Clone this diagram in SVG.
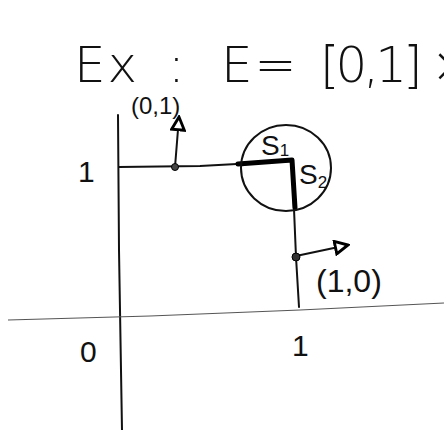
<svg xmlns="http://www.w3.org/2000/svg" width="444" height="430" viewBox="0 0 444 430">
<style>
.t{font-family:"Liberation Sans",Arial,sans-serif;fill:#111;}
.h{font-family:"DejaVu Sans","Liberation Sans",sans-serif;font-weight:200;fill:#111;font-size:50px;}
.ax{stroke:#111;stroke-width:2;fill:none;stroke-linecap:round;}
.thin{stroke:#555;stroke-width:1.2;fill:none;}
.thick{stroke:#000;stroke-width:5;fill:none;stroke-linecap:round;stroke-linejoin:round;}
</style>
<defs>
<marker id="ah" viewBox="0 0 10 10" refX="9" refY="5" markerWidth="8" markerHeight="8" orient="auto">
<path d="M1,1 L9,5 L1,9 Z" fill="#fff" stroke="#000" stroke-width="1.8"/>
</marker>
</defs>
<rect width="444" height="430" fill="#fff"/>
<g id="title">
<text class="h" x="74" y="82" letter-spacing="2">Ex</text>
<text class="h" x="168" y="82">:</text>
<text class="h" x="221" y="82" letter-spacing="2">E=</text>
<text class="h" x="320" y="82" letter-spacing="-4">[0,1] ×</text>
</g>
<g id="axes">
<path class="ax" d="M118,115 L119,250 L122,430"/>
<path class="thin" d="M8,320 L150,316 L300,310 L444,303"/>
</g>
<g id="connectors">
<path class="ax" d="M119,167 L200,166 L292,161"/>
<path class="ax" d="M292,161 L296,257 L299,307"/>
<path class="thick" d="M238,164 L292,160 L295,208"/>
<path class="ax" d="M175,167 L179,117" marker-end="url(#ah)"/>
<path class="ax" d="M296,256 L348,245" marker-end="url(#ah)"/>
</g>
<g id="circle">
<ellipse cx="286" cy="168" rx="45" ry="43" fill="none" stroke="#111" stroke-width="2"/>
<text class="t" x="261" y="155" font-size="28">S<tspan font-size="17" dy="1">1</tspan></text>
<text class="t" x="299" y="184" font-size="28">S<tspan font-size="17" dy="4">2</tspan></text>
</g>
<g id="p01">
<circle cx="175" cy="167" r="3.5" fill="#444" stroke="#000"/>
<text class="t" x="131" y="114" font-size="24">(0,1)</text>
</g>
<g id="p10">
<circle cx="296" cy="257" r="4" fill="#333" stroke="#000"/>
<text class="t" x="316" y="292" font-size="32">(1,0)</text>
</g>
<g id="labels">
<text class="t" x="78" y="182" font-size="30">1</text>
<text class="t" x="80" y="362" font-size="30">0</text>
<text class="t" x="292" y="356" font-size="30">1</text>
</g>
</svg>
